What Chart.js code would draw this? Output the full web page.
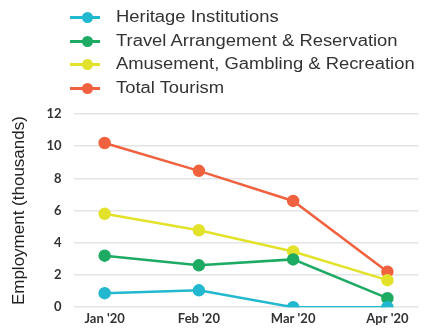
<!DOCTYPE html>
<html>
<head>
<meta charset="utf-8">
<script src="https://cdn.jsdelivr.net/npm/chart.js@4"></script>
<style>
  html, body { margin: 0; padding: 0; background: #fff; overflow: hidden; }
  #wrap { position: relative; width: 426px; height: 328px; }
  #legend { position: absolute; left: 70px; top: 5px; font-family: "Liberation Sans", Arial, sans-serif; font-size: 16px; color: #333; }
  .item { display: flex; align-items: center; height: 23.7px; }
  .mark { position: relative; width: 30px; height: 12px; margin-right: 16px; }
  .mark .ln { position: absolute; left: 0; right: 0; top: 5px; height: 3px; }
  .mark .dot { position: absolute; left: 12px; top: 1px; width: 11px; height: 11px; border-radius: 50%; }
  .txt { display: inline-block; transform: scaleX(1.15); transform-origin: left center; white-space: nowrap; }
</style>
</head>
<body>
<div id="wrap">
  <canvas id="chart" width="426" height="328"></canvas>
  <div id="legend"></div>
</div>
<script>
// data
const months = ["Jan '20", "Feb '20", "Mar '20", "Apr '20"];
const heritage = [0.87, 1.05, 0, 0];
const travel = [3.2, 2.6, 2.97, 0.56];
const amusement = [5.8, 4.78, 3.46, 1.68];
const totalTourism = [10.2, 8.47, 6.6, 2.2];
const yTicks = [0, 2, 4, 6, 8, 10, 12];

const series = [
    { label: "Heritage Institutions", values: heritage, color: "#22b8cf" },
    { label: "Travel Arrangement & Reservation", values: travel, color: "#1daa63" },
    { label: "Amusement, Gambling & Recreation", values: amusement, color: "#e3e22b" },
    { label: "Total Tourism", values: totalTourism, color: "#f0623f" }
];

let ctx = document.getElementById("chart").getContext("2d");
new Chart(ctx, {
    type: "line",
    data: {
        datasets: series.map(s => ({
            label: s.label,
            data: s.values.map((v, i) => ({ x: i, y: v })),
            borderColor: s.color,
            backgroundColor: s.color,
            pointBackgroundColor: s.color,
            pointBorderColor: s.color,
            borderWidth: 2.5,
            pointRadius: 5,
            tension: 0
        }))
    },
    options: {
        responsive: false,
        animation: false,
        layout: { padding: { top: 114, right: 4, left: 9, bottom: -3 } },
        plugins: { legend: { display: false }, tooltip: { enabled: false } },
        scales: {
            x: {
                type: "linear",
                min: -0.32,
                max: 3.33,
                grid: { display: false, drawTicks: false },
                border: { display: false },
                afterBuildTicks: axis => { axis.ticks = months.map((m, i) => ({ value: i })); },
                ticks: {
                    callback: v => months[v],
                    color: "#333",
                    padding: 4,
                    font: { family: "Lato", size: 13, weight: "bold" }
                }
            },
            y: {
                min: 0,
                max: 12,
                afterBuildTicks: axis => { axis.ticks = yTicks.map(v => ({ value: v })); },
                grid: { color: "#e4e4e4", lineWidth: 1.5, drawTicks: false },
                border: { display: false },
                ticks: {
                    color: "#333",
                    padding: 13,
                    font: { family: "Lato", size: 13, weight: "bold" }
                },
                title: {
                    display: true,
                    text: "Employment (thousands)",
                    color: "#222",
                    padding: { top: 0, bottom: 4 },
                    font: { family: "Liberation Sans", size: 17 }
                }
            }
        }
    }
});

// legend on the left, one entry per row
let legend = document.getElementById("legend");
series.forEach(s => {
    let item = document.createElement("div");
    item.className = "item";
    item.innerHTML = '<span class="mark"><span class="ln" style="background:' + s.color + '"></span>' +
        '<span class="dot" style="background:' + s.color + '"></span></span>';
    let txt = document.createElement("span");
    txt.className = "txt";
    txt.innerText = s.label;
    item.appendChild(txt);
    legend.appendChild(item);
});
</script>
</body>
</html>
